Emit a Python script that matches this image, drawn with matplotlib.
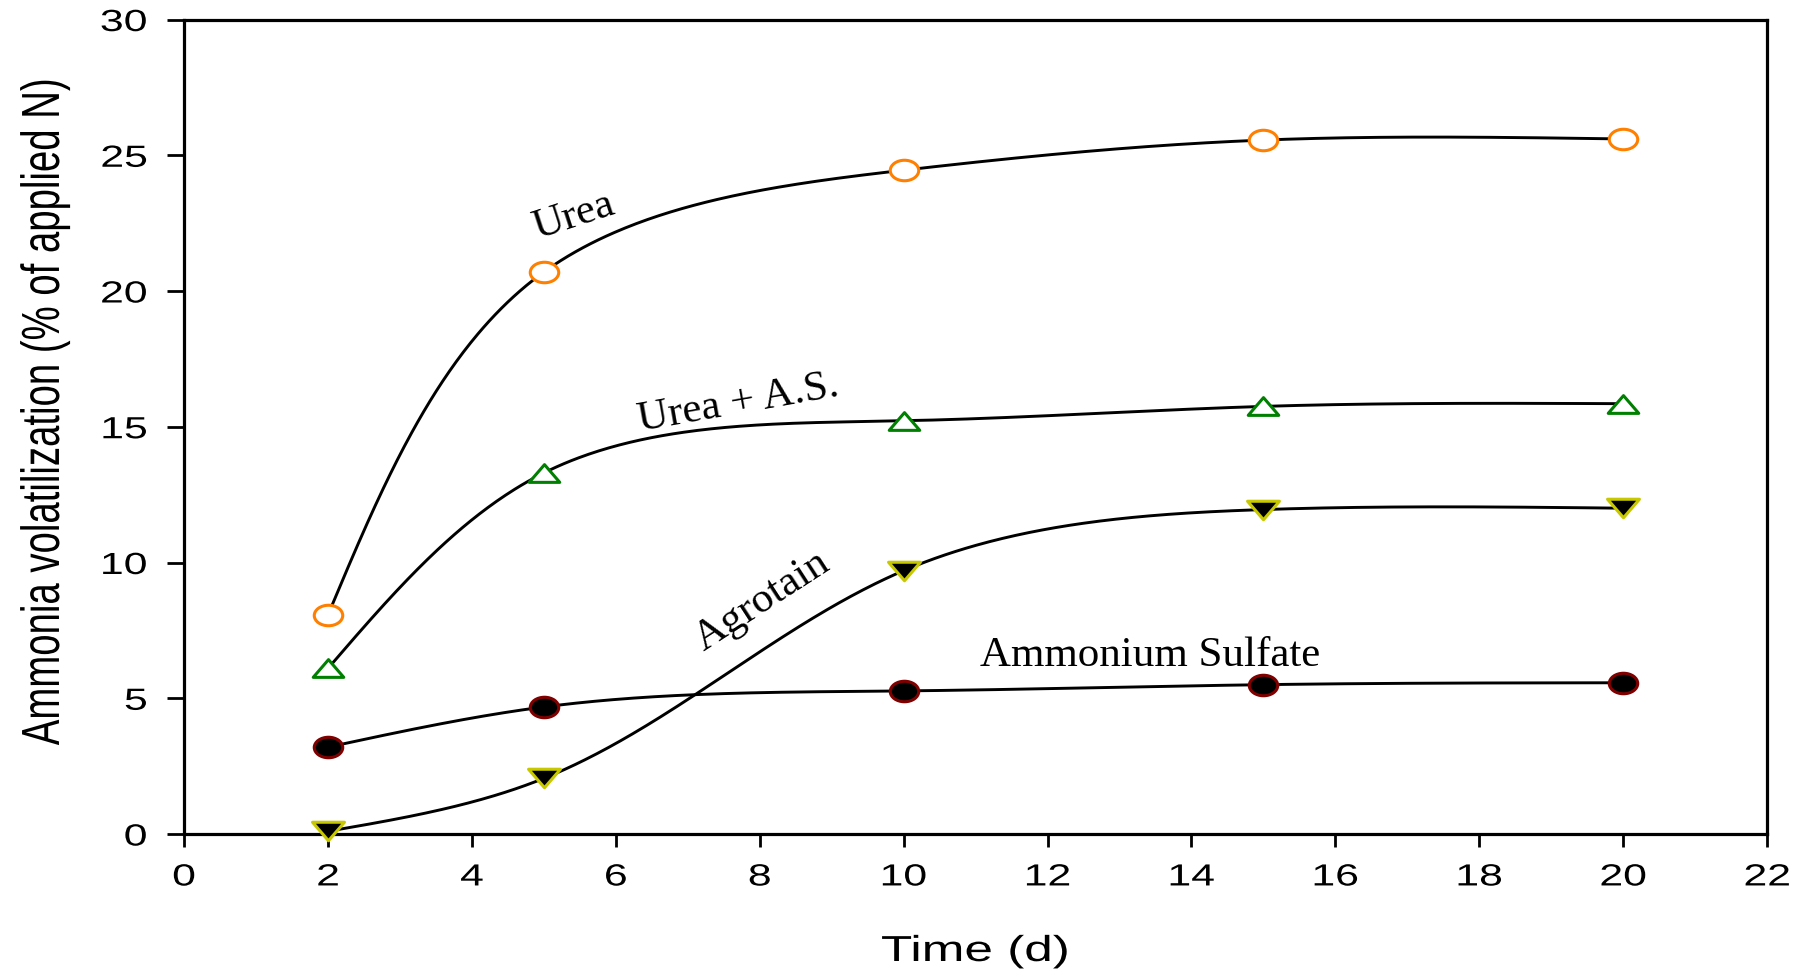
import numpy as np
import matplotlib
matplotlib.use("Agg")
import matplotlib.pyplot as plt
from matplotlib import patheffects
from matplotlib.path import Path
from matplotlib.transforms import Affine2D

# cumulative NH3 loss, % of applied N
days = [2, 5, 10, 15, 20]
urea = [8.07, 20.7, 24.45, 25.56, 25.6]
urea_as = [6.1, 13.3, 15.22, 15.75, 15.85]
agrotain = [0.1, 2.05, 9.7, 11.95, 12.0]
amm_sulfate = [3.2, 4.68, 5.27, 5.5, 5.57]

x_ticks = list(range(0, 23, 2))
y_ticks = list(range(0, 31, 5))


class Widen(patheffects.AbstractPathEffect):
    """draws text glyphs stretched sideways (sx) around left/center/right of the ink"""

    def __init__(self, sx=1.4, anchor="center"):
        super().__init__()
        self.sx = sx
        self.anchor = anchor

    def draw_path(self, renderer, gc, tpath, affine, rgbFace=None):
        ext = tpath.get_extents(affine)
        x0 = {"left": ext.x0, "center": (ext.x0 + ext.x1) / 2, "right": ext.x1}[self.anchor]
        widen = Affine2D().translate(-x0, 0).scale(self.sx, 1).translate(x0, 0)
        renderer.draw_path(gc, tpath, affine + widen, rgbFace)


def natural_spline(t, v, ts):
    t = np.asarray(t, float)
    v = np.asarray(v, float)
    n = len(t)
    h = np.diff(t)
    A = np.zeros((n, n))
    rhs = np.zeros(n)
    A[0, 0] = A[-1, -1] = 1
    for i in range(1, n - 1):
        A[i, i - 1] = h[i - 1]
        A[i, i] = 2 * (h[i - 1] + h[i])
        A[i, i + 1] = h[i]
        rhs[i] = 6 * ((v[i + 1] - v[i]) / h[i] - (v[i] - v[i - 1]) / h[i - 1])
    m = np.linalg.solve(A, rhs)
    k = np.clip(np.searchsorted(t, ts) - 1, 0, n - 2)
    t0 = t[k + 1] - ts
    t1 = ts - t[k]
    hk = h[k]
    return (m[k] * t0 ** 3 + m[k + 1] * t1 ** 3) / (6 * hk) \
        + (v[k] / hk - m[k] * hk / 6) * t0 + (v[k + 1] / hk - m[k + 1] * hk / 6) * t1


def screen_spline(x, y, px_x, px_y, num=500):
    # parametric spline on screen-scaled points, chord length as parameter
    sx = np.asarray(x, float) * px_x
    sy = np.asarray(y, float) * px_y
    t = np.concatenate([[0], np.cumsum(np.hypot(np.diff(sx), np.diff(sy)))])
    ts = np.linspace(0, t[-1], num)
    return natural_spline(t, sx, ts) / px_x, natural_spline(t, sy, ts) / px_y


# flattened marker shapes
ellipse = Affine2D().scale(1.0, 0.72).transform_path(Path.unit_circle())
tri_up = Path([(-1.0, -0.58), (1.0, -0.58), (0.0, 0.58), (-1.0, -0.58)],
              [Path.MOVETO, Path.LINETO, Path.LINETO, Path.CLOSEPOLY])
tri_down = Path([(-1.0, 0.58), (1.0, 0.58), (0.0, -0.58), (-1.0, 0.58)],
                [Path.MOVETO, Path.LINETO, Path.LINETO, Path.CLOSEPOLY])

fig = plt.figure(figsize=(18.03, 9.71), dpi=100)
ax = fig.add_axes([0.1021, 0.1411, 0.878, 0.8388])
ax.set_xlim(0, 22)
ax.set_ylim(0, 30)
box = ax.get_window_extent()
px_x = box.width / 22
px_y = box.height / 30

series = [
    (urea, ellipse, "white", "#ff8000", 20.5),
    (urea_as, tri_up, "white", "#008000", 22),
    (agrotain, tri_down, "black", "#c8c800", 23),
    (amm_sulfate, ellipse, "black", "#800000", 20.5),
]
for values, marker, face, edge, size in series:
    xs, ys = screen_spline(days, values, px_x, px_y)
    ax.plot(xs, ys, color="black", lw=2.1, zorder=2)
    ax.plot(days, values, linestyle="none", marker=marker, markersize=size,
            markerfacecolor=face, markeredgecolor=edge, markeredgewidth=2.2, zorder=3,
            clip_on=False)

ax.set_xticks(x_ticks)
ax.set_yticks(y_ticks)
for side in ax.spines.values():
    side.set_linewidth(2.3)
ax.tick_params(axis="x", direction="out", length=9, width=2, pad=11.5)
ax.tick_params(axis="y", direction="out", length=12.2, width=2, pad=14.4)
for lab in ax.get_xticklabels():
    lab.set_fontfamily("Liberation Sans")
    lab.set_fontsize(22)
    lab.set_path_effects([Widen(1.4, "center")])
for lab in ax.get_yticklabels():
    lab.set_fontfamily("Liberation Sans")
    lab.set_fontsize(22)
    lab.set_path_effects([Widen(1.4, "right")])

fig.text(975 / 1803, 10 / 971, "Time (d)", ha="center", va="baseline",
         family="Liberation Sans", fontsize=26, path_effects=[Widen(1.42, "center")])
fig.text(45 / 1803, 1 - 411 / 971, "Ammonia volatilization (% of applied N)",
         ha="center", va="center", rotation=90, family="Liberation Sans", fontsize=27.6,
         path_effects=[Widen(1.4, "center")])

serif = dict(family="Liberation Serif", fontsize=31, ha="center")
ax.text(5.41, 22.76, "Urea", rotation=18, va="center", **serif)
ax.text(7.70, 15.87, "Urea + A.S.", rotation=10, va="center", **serif)
ax.text(8.03, 8.58, "Agrotain", rotation=33, va="center", **serif)
ax.text(13.43, 6.19, "Ammonium Sulfate", rotation=0, va="baseline", **serif)

fig.savefig("out.png", dpi=100)
